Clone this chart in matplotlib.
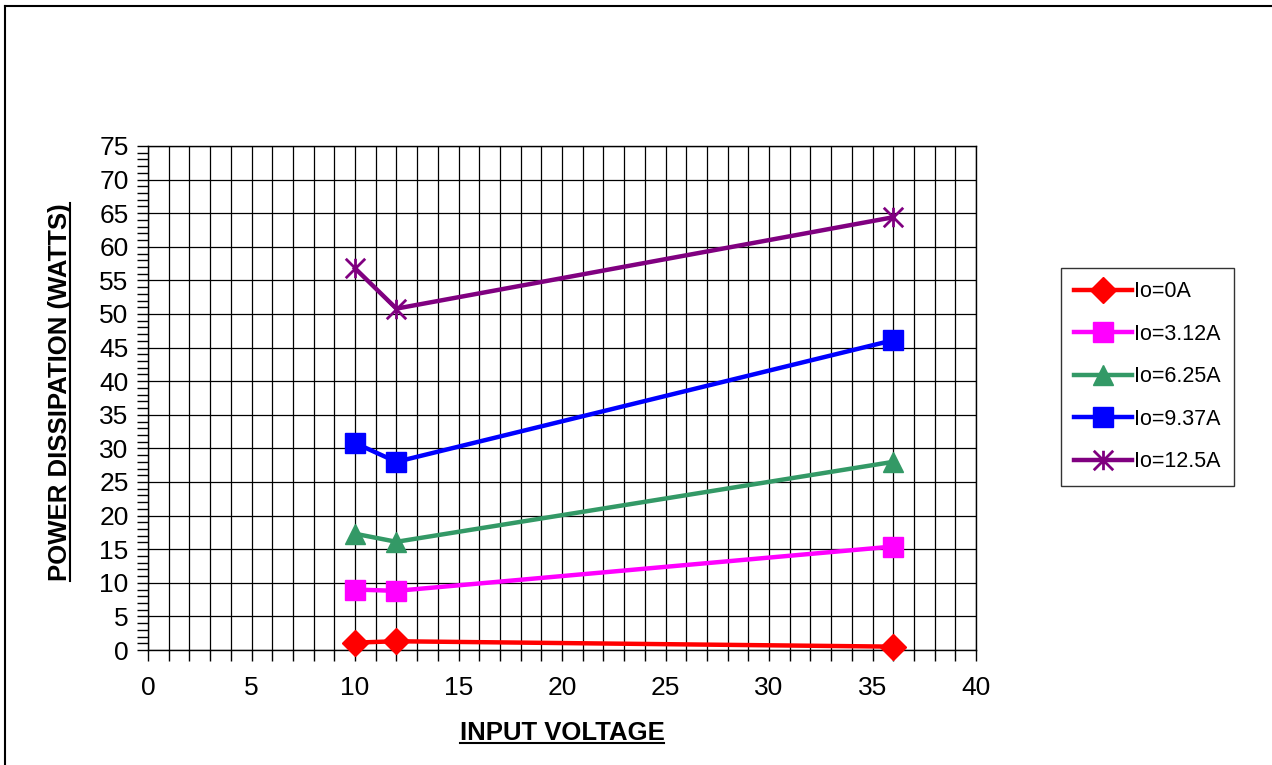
import matplotlib
matplotlib.use("Agg")
import matplotlib.pyplot as plt
from matplotlib.path import Path
from matplotlib.lines import Line2D
from matplotlib.ticker import MultipleLocator

plt.rcParams['font.family'] = ['Liberation Sans', 'DejaVu Sans']

# Data
input_voltage = [10, 12, 36]
series_labels = ["Io=0A", "Io=3.12A", "Io=6.25A", "Io=9.37A", "Io=12.5A"]
io_0a = [1.1, 1.3, 0.5]
io_3_12a = [9.0, 8.8, 15.4]
io_6_25a = [17.3, 16.1, 28.0]
io_9_37a = [30.8, 28.0, 46.1]
io_12_5a = [56.8, 50.8, 64.4]

series_values = [io_0a, io_3_12a, io_6_25a, io_9_37a, io_12_5a]
colors = ["#FF0000", "#FF00FF", "#339966", "#0000FF", "#800080"]

star = Path([(0, -1), (0, 1), (-1, -1), (1, 1), (-1, 1), (1, -1)],
            [Path.MOVETO, Path.LINETO, Path.MOVETO, Path.LINETO, Path.MOVETO, Path.LINETO])
markers = ["D", "s", "^", "s", star]
msizes = [13, 15, 15, 15, 14]

W, H = 1272, 765
fig = plt.figure(figsize=(W/100, H/100), dpi=100)
ax = fig.add_axes([148/W, 1-650/H, (976-148)/W, (650-146)/H])

handles = []
for vals, lab, col, mk, ms in zip(series_values, series_labels, colors, markers, msizes):
    if mk is star:
        h, = ax.plot(input_voltage, vals, color=col, lw=3.2, marker=mk, markersize=ms,
                     markerfacecolor='none', markeredgecolor=col, markeredgewidth=2, label=lab,
                     zorder=3, clip_on=False)
    else:
        h, = ax.plot(input_voltage, vals, color=col, lw=3.2, marker=mk, markersize=ms,
                     markerfacecolor=col, markeredgecolor=col, label=lab, zorder=3, clip_on=False)
    handles.append(h)

ax.set_xlim(0, 40)
ax.set_ylim(0, 75)
ax.xaxis.set_major_locator(MultipleLocator(5))
ax.xaxis.set_minor_locator(MultipleLocator(1))
ax.yaxis.set_major_locator(MultipleLocator(5))
ax.yaxis.set_minor_locator(MultipleLocator(1))
ax.grid(True, which='major', axis='y', color='black', lw=0.9)
ax.grid(True, which='both', axis='x', color='black', lw=0.9)
ax.set_axisbelow(True)
ax.tick_params(axis='both', which='both', direction='out', length=8, width=1, color='black')
ax.tick_params(axis='x', which='major', labelsize=19, pad=11)
ax.tick_params(axis='y', which='major', labelsize=19, pad=6)
for s in ax.spines.values():
    s.set_color('black')
    s.set_linewidth(1)

xl = fig.text(562/W, 1-733/H, 'INPUT VOLTAGE', fontsize=18.5, fontweight='bold',
              ha='center', va='center')
yl = fig.text(60/W, 1-392/H, 'POWER DISSIPATION (WATTS)', fontsize=18.5, fontweight='bold',
              ha='center', va='center', rotation=90)

leg = fig.legend(handles=handles, loc='upper left', bbox_to_anchor=(1061/W, 1-268/H),
                 frameon=True, fancybox=False, edgecolor='black', fontsize=15.5,
                 handlelength=2.7, handletextpad=0.05, labelspacing=1.0, borderpad=0.62,
                 borderaxespad=0)
leg.get_frame().set_linewidth(1)

# Figure frame (top and left)
fig.add_artist(Line2D([5/W, 1], [1-6/H, 1-6/H], color='black', lw=1.5, transform=fig.transFigure))
fig.add_artist(Line2D([5/W, 5/W], [0, 1-6/H], color='black', lw=1.5, transform=fig.transFigure))

# Underlines for axis titles
fig.canvas.draw()
r = fig.canvas.get_renderer()
bb = xl.get_window_extent(r)
fig.add_artist(Line2D([bb.x0/W, bb.x1/W], [(bb.y0+2)/H, (bb.y0+2)/H], color='black', lw=1.5,
                      transform=fig.transFigure))
bb = yl.get_window_extent(r)
fig.add_artist(Line2D([(bb.x1-2)/W, (bb.x1-2)/W], [bb.y0/H, bb.y1/H], color='black', lw=1.5,
                      transform=fig.transFigure))

fig.savefig("out.png", dpi=100)
